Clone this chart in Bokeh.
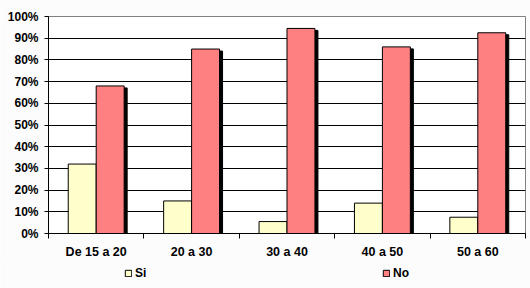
from bokeh.plotting import figure
from bokeh.models import Range1d, FixedTicker, Legend, LegendItem
from bokeh.layouts import column
from bokeh.embed import file_html
from bokeh.resources import INLINE

categories = ["De 15 a 20", "20 a 30", "30 a 40", "40 a 50", "50 a 60"]
si_values = [32, 15, 5.5, 14, 7.5]
no_values = [68, 85, 94.5, 86, 92.5]
y_ticks = [0, 10, 20, 30, 40, 50, 60, 70, 80, 90, 100]
series_names = ["Si", "No"]
si_color = "#FFFFCC"
no_color = "#FF8080"
BG = "#FCFCFC"

W, H = 530, 288
LEG_H = 26
L, R, T, B = 48, 5, 16, 29
PH = H - LEG_H
fw, fh = W - L - R, PH - T - B
n = len(categories)
bar_w = 0.293
px_x = n / fw
px_y = (y_ticks[-1] - y_ticks[0]) / fh

centers = list(range(n))
si_x = [c - bar_w / 2 for c in centers]
no_x = [c + bar_w / 2 for c in centers]

FONT = "Liberation Sans"

p = figure(width=W, height=PH, x_range=Range1d(-0.5, n - 0.5), y_range=Range1d(0, 100),
           output_backend="svg", toolbar_location=None,
           min_border_left=L, min_border_right=R, min_border_top=T, min_border_bottom=B)
p.border_fill_color = BG
p.background_fill_color = "white"
p.outline_line_color = "#808080"
p.outline_line_width = 1

p.xgrid.visible = False
p.ygrid.ticker = FixedTicker(ticks=y_ticks[1:-1])
p.ygrid.grid_line_color = "black"
p.ygrid.grid_line_width = 1

# shadows
sh = dict(width=bar_w, bottom=0, fill_color="black", line_color="black", line_width=1)
p.vbar(x=[x + 3 * px_x for x in si_x], top=[v - 2 * px_y for v in si_values], **sh)
p.vbar(x=[x + 3 * px_x for x in no_x], top=[v - 2 * px_y for v in no_values], **sh)

p.vbar(x=si_x, top=si_values, width=bar_w, bottom=0, fill_color=si_color,
       line_color="black", line_width=1)
p.vbar(x=no_x, top=no_values, width=bar_w, bottom=0, fill_color=no_color,
       line_color="black", line_width=1)

# y axis
ya = p.yaxis[0]
ya.ticker = FixedTicker(ticks=y_ticks)
ya.major_label_overrides = {v: f"{v}%" for v in y_ticks}
ya.major_tick_out = 4
ya.major_tick_in = 0
ya.minor_tick_out = 0
ya.minor_tick_in = 0
ya.axis_line_color = "black"
ya.major_tick_line_color = "black"
ya.major_label_standoff = 6
ya.major_label_text_font = FONT
ya.major_label_text_font_style = "bold"
ya.major_label_text_font_size = "12px"
ya.major_label_text_color = "black"

# x axis
xa = p.xaxis[0]
xa.ticker = FixedTicker(ticks=centers, minor_ticks=[c - 0.5 for c in centers] + [n - 0.5])
xa.major_label_overrides = {c: cat for c, cat in zip(centers, categories)}
xa.major_tick_out = 0
xa.major_tick_in = 0
xa.minor_tick_out = 5
xa.minor_tick_in = 0
xa.minor_tick_line_color = "black"
xa.axis_line_color = "black"
xa.major_label_standoff = 6
xa.major_label_text_font = FONT
xa.major_label_text_font_style = "bold"
xa.major_label_text_font_size = "12.5px"
xa.major_label_text_color = "black"

# legend strip (legend-only renderers, kept outside the visible range)
lf = figure(width=W, height=LEG_H, x_range=Range1d(1, 2), y_range=Range1d(1, 2),
            output_backend="svg", toolbar_location=None,
            x_axis_type=None, y_axis_type=None,
            min_border_left=0, min_border_right=0, min_border_top=0, min_border_bottom=0)
lf.border_fill_color = BG
lf.background_fill_color = BG
lf.outline_line_color = None
lf.xgrid.visible = False
lf.ygrid.visible = False
si_leg = lf.vbar(x=[0], top=[0], bottom=0, width=0, fill_color=si_color,
                 line_color="black", line_width=1)
no_leg = lf.vbar(x=[0], top=[0], bottom=0, width=0, fill_color=no_color,
                 line_color="black", line_width=1)

legend = Legend(items=[LegendItem(label=series_names[0], renderers=[si_leg], index=0),
                       LegendItem(label=series_names[1], renderers=[no_leg], index=0)],
                orientation="horizontal", location=(76, 8), spacing=191,
                glyph_width=8, glyph_height=8, label_standoff=3, label_height=8,
                label_width=56,
                padding=0, margin=0, border_line_color=None, background_fill_alpha=0,
                label_text_font=FONT, label_text_font_style="bold",
                label_text_font_size="12px", label_text_color="black")
lf.add_layout(legend, "center")

layout = column(p, lf, spacing=0)
open("out.html", "w").write(file_html(layout, INLINE))
